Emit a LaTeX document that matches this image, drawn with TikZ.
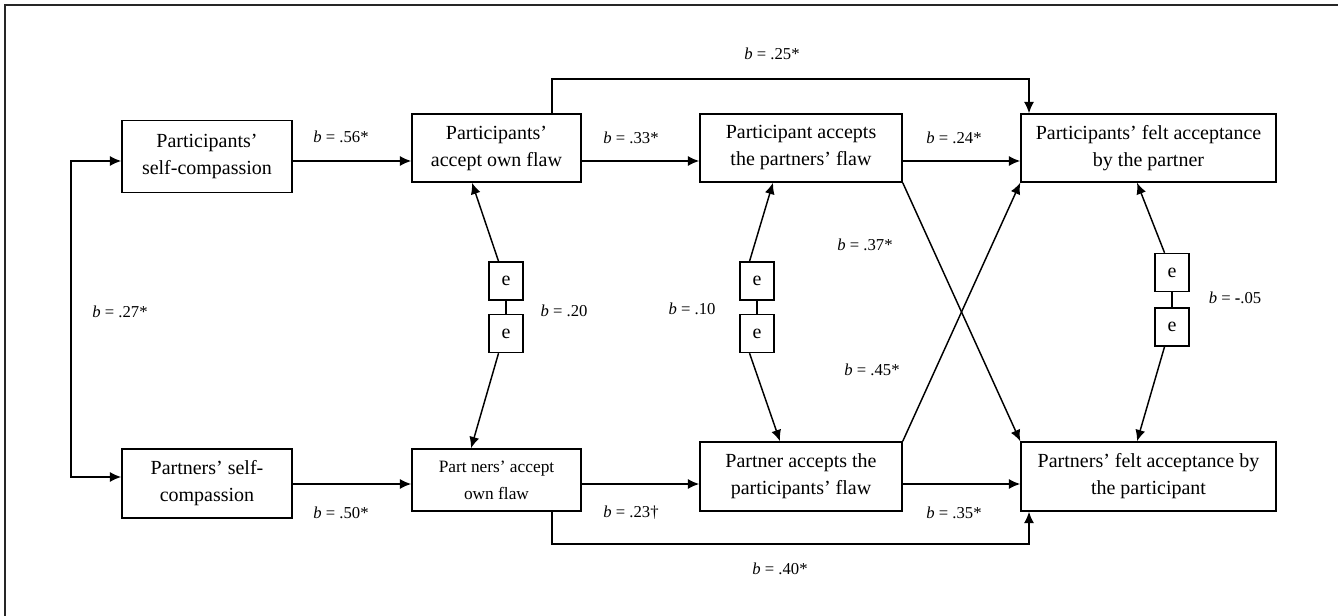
\documentclass[tikz,border=0pt]{standalone}
\usepackage{fontspec}
\setmainfont{Liberation Serif}
\usetikzlibrary{arrows.meta}
\tikzset{
    box/.style={draw, line width=1.1pt, align=center, inner sep=2pt, font=\fontsize{15}{20.25}\selectfont},
    ebox/.style={draw, line width=1.1pt, minimum width=25.5pt, minimum height=28.5pt, inner sep=0pt, font=\fontsize{15}{17}\selectfont},
    arr/.style={line width=1.1pt, -{Latex[length=8.5pt,width=7.5pt]}},
    arrboth/.style={line width=1.1pt, {Latex[length=8.5pt,width=7.5pt]}-{Latex[length=8.5pt,width=7.5pt]}},
    lab/.style={font=\fontsize{12.5}{15}\selectfont, inner sep=0pt},
    frame/.style={line width=1.4pt, draw=black!85}
}
\def\bee{\textit{b} = }

\begin{document}
\begin{tikzpicture}[x=0.75pt, y=-0.75pt]
    \useasboundingbox (0,0) rectangle (1338,616);

    % Frame (only top and left edge are visible)
    \draw[frame] (1338,5) -- (5,5) -- (5,616);

    % Variables of the participant (top row)
    \node[box, minimum width=127.5pt, minimum height=54pt] (PSC) at (207,156.5) {Participants’\\self-compassion};
    \node[box, minimum width=126.75pt, minimum height=51pt] (PAF) at (496.5,148) {Participants’\\accept own flaw};
    \node[box, minimum width=151.5pt, minimum height=51pt] (PAPF) at (801,148) {Participant accepts\\the partners’ flaw};
    \node[box, minimum width=191.25pt, minimum height=51pt] (PFA) at (1148.5,148) {Participants’ felt acceptance\\by the partner};

    % Variables of the partner (bottom row)
    \node[box, minimum width=127.5pt, minimum height=51.75pt] (PtSC) at (207,483.5) {Partners’ self-\\compassion};
    \node[box, minimum width=126.75pt, minimum height=46.5pt, font=\fontsize{13}{20.25}\selectfont] (PtAF) at (496.5,480) {Part ners’ accept\\own flaw};
    \node[box, minimum width=151.5pt, minimum height=51.75pt] (PtAPF) at (801,476.5) {Partner accepts the\\participants’ flaw};
    \node[box, minimum width=191.25pt, minimum height=51.75pt] (PtFA) at (1148.5,476.5) {Partners’ felt acceptance by\\the participant};

    % Error terms
    \node[ebox] (e1a) at (506,281) {e};
    \node[ebox] (e1b) at (506,333.5) {e};
    \node[ebox] (e2a) at (757,281) {e};
    \node[ebox] (e2b) at (757,333.5) {e};
    \node[ebox] (e3a) at (1172,272.5) {e};
    \node[ebox] (e3b) at (1172,327) {e};

    % Helper points for the bent paths
    \coordinate (lt) at (71,161);
    \coordinate (lb) at (71,477);
    \coordinate (rowB) at (0,484);
    \coordinate (tl) at (552,79);
    \coordinate (tr) at (1029,79);
    \coordinate (bl) at (552,544);
    \coordinate (br) at (1029,544);

    % Paths
    \draw[arrboth] (PSC.west |- lt) -- (lt) -- (lb) -- (PtSC.west |- lb);
    \draw[arr] (PSC.east |- lt) -- (PAF.west |- lt);
    \draw[arr] (PAF.east |- lt) -- (PAPF.west |- lt);
    \draw[arr] (PAPF.east |- lt) -- (PFA.west |- lt);
    \draw[arr] (PtSC.east |- rowB) -- (PtAF.west |- rowB);
    \draw[arr] (PtAF.east |- rowB) -- (PtAPF.west |- rowB);
    \draw[arr] (PtAPF.east |- rowB) -- (PtFA.west |- rowB);
    \draw[arr] (PAF.north -| tl) -- (tl) -- (tr) -- (PFA.north -| tr);
    \draw[arr] (PtAF.south -| bl) -- (bl) -- (br) -- (PtFA.south -| br);
    \draw[arr] (PAPF.south east) -- (PtFA.north west);
    \draw[arr] (PtAPF.north east) -- (PFA.south west);

    % Error terms to their variables
    \draw[line width=1.1pt] (e1a) -- (e1b);
    \draw[line width=1.1pt] (e2a) -- (e2b);
    \draw[line width=1.1pt] (e3a) -- (e3b);
    \draw[arr] ([xshift=-5.6pt]e1a.north) -- ([xshift=-18.4pt]PAF.south);
    \draw[arr] ([xshift=-5.6pt]e1b.south) -- ([xshift=-19.1pt]PtAF.north);
    \draw[arr] ([xshift=-5.6pt]e2a.north) -- ([xshift=-21pt]PAPF.south);
    \draw[arr] ([xshift=-5.6pt]e2b.south) -- ([xshift=-15.75pt]PtAPF.north);
    \draw[arr] ([xshift=-5.6pt]e3a.north) -- ([xshift=-8.6pt]PFA.south);
    \draw[arr] ([xshift=-5.6pt]e3b.south) -- ([xshift=-8.6pt]PtFA.north);

    % Coefficients
    \node[lab] (l56) at (341,137) {\bee .56*};
    \node[lab] (l33) at (631,138) {\bee .33*};
    \node[lab] (l24) at (954,138) {\bee .24*};
    \node[lab] (l25) at (772,54) {\bee .25*};
    \node[lab] (l27) at (120,312) {\bee .27*};
    \node[lab] (l20) at (564,311) {\bee .20};
    \node[lab] (l10) at (692,309) {\bee .10};
    \node[lab] (l37) at (865,245) {\bee .37*};
    \node[lab] (l45) at (872,370) {\bee .45*};
    \node[lab] (l05) at (1235,298) {\bee \textbf{-}.05};
    \node[lab] (l50) at (341,513) {\bee .50*};
    \node[lab] (l23) at (631,513) {\bee .23\textdagger};
    \node[lab] (l35) at (954,513) {\bee .35*};
    \node[lab] (l40) at (780,569) {\bee .40*};
\end{tikzpicture}
\end{document}
